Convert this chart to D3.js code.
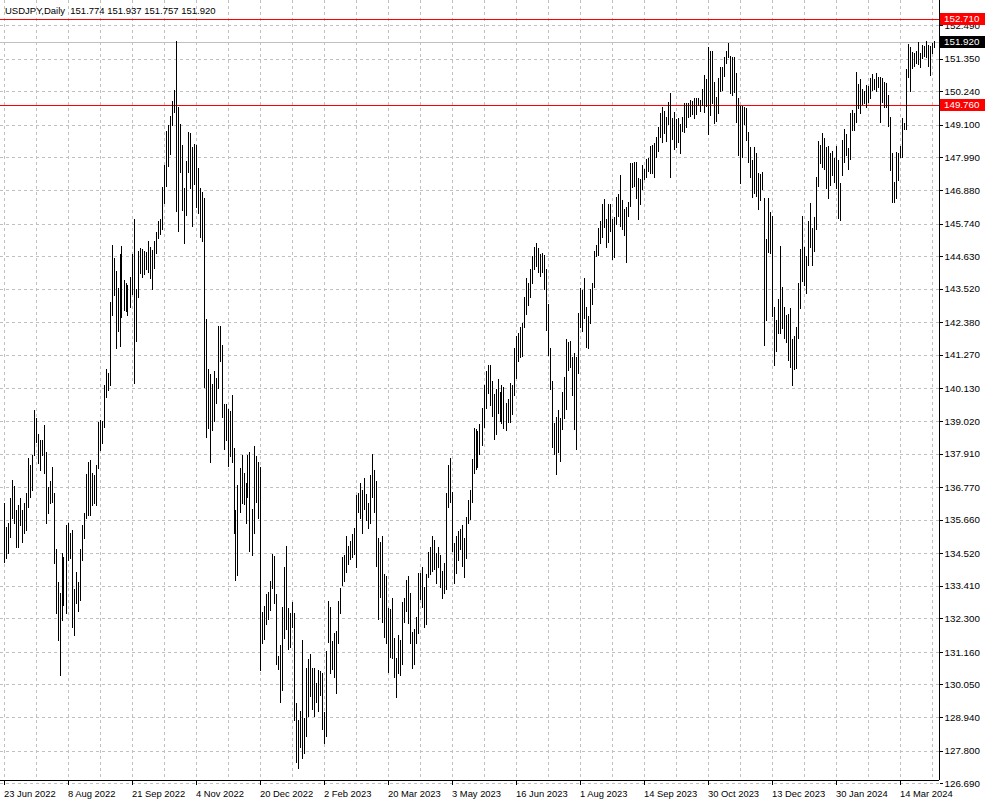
<!DOCTYPE html>
<html><head><meta charset="utf-8">
<script src="https://cdn.jsdelivr.net/npm/d3@7"></script>
<style>
html,body{margin:0;padding:0;background:#fff;}
svg{display:block;font-family:"Liberation Sans",Arial,sans-serif;}
</style></head>
<body><div id="chart"></div>
<script>
// ---- data (USDJPY daily, high/low per bar) ----
const symbolTitle = "USDJPY,Daily";
const lastOHLC = [151.774, 151.937, 151.757, 151.920];
const highs = [
136.22,135.42,135.54,136.39,137.01,136.81,135.99,136.16,136.39,135.99,
136.24,136.56,137.75,137.52,137.86,139.39,139.11,138.58,138.37,138.37,
138.88,137.98,136.78,136.99,137.46,136.56,134.65,133.55,133.15,134.51,
134.40,135.48,135.56,135.20,135.31,133.29,133.89,133.55,134.65,135.48,
135.88,137.21,137.63,137.69,137.24,137.18,137.52,139.00,139.05,139.03,
140.24,140.78,140.66,143.08,145.01,144.56,144.14,143.53,144.70,144.98,
143.82,143.70,143.65,143.91,144.70,145.88,143.50,144.82,144.90,144.86,
144.82,144.78,145.15,144.93,144.84,145.16,145.44,145.84,145.88,146.99,
147.73,148.90,149.09,149.40,149.92,150.29,151.96,149.70,149.13,148.41,
146.94,147.88,148.87,148.81,148.36,148.45,148.41,147.62,146.94,146.82,
146.62,142.48,140.78,140.62,140.28,140.73,140.47,142.25,142.25,141.61,
139.60,139.60,139.43,139.37,139.90,138.09,135.99,136.84,137.41,137.86,
137.26,136.92,137.86,137.97,136.01,138.17,137.83,137.63,137.44,132.53,
132.72,133.13,133.21,133.57,134.49,134.42,133.13,131.02,131.39,132.70,
134.06,134.76,132.64,132.47,132.87,132.49,129.43,128.84,129.16,131.56,
128.90,130.60,130.91,131.09,130.60,130.60,130.09,130.54,130.52,130.43,
129.13,131.20,132.90,132.70,131.54,131.81,131.88,132.90,133.32,134.38,
134.46,135.10,134.76,134.95,135.17,135.37,136.50,136.58,136.92,136.67,
137.07,136.53,136.22,137.18,137.90,137.35,136.99,135.03,134.91,135.10,
133.81,133.74,132.64,132.61,132.98,131.62,130.94,131.74,131.56,132.87,
132.98,133.61,133.74,133.18,131.85,131.93,132.36,133.86,133.83,134.06,
133.38,133.81,134.57,134.72,135.10,134.97,134.51,134.74,134.46,133.92,
134.20,136.58,137.52,137.77,136.61,134.88,135.10,135.29,135.33,135.48,
135.03,135.76,136.33,136.67,137.71,138.77,138.74,138.69,138.92,139.45,
140.24,140.72,140.92,140.92,140.39,139.94,140.10,140.44,140.02,140.24,
140.19,139.64,139.76,140.30,140.24,141.49,141.91,142.02,142.23,142.34,
143.25,143.87,143.73,144.18,144.63,144.93,145.07,144.90,144.70,144.73,
144.67,144.18,143.00,141.49,140.39,138.96,139.14,139.39,139.11,140.02,
140.50,141.80,141.72,141.75,141.21,141.34,141.21,142.71,143.53,143.48,
143.87,142.89,142.59,143.50,143.73,144.82,145.01,145.58,145.84,146.41,
146.56,145.88,146.41,146.41,145.88,145.95,146.63,146.75,147.39,146.54,
146.22,146.29,146.48,147.79,147.81,147.85,147.85,147.28,147.24,147.73,
147.58,147.93,147.96,148.38,148.41,148.47,148.70,149.01,149.51,149.70,
149.58,149.35,149.89,150.19,149.32,149.55,149.29,149.32,149.13,149.35,
149.85,149.85,149.83,149.94,149.92,150.00,150.00,150.00,149.94,150.31,
150.80,150.65,151.74,151.62,151.62,150.57,150.06,150.68,151.06,151.08,
151.40,151.62,151.90,151.44,151.42,151.42,150.85,150.00,149.74,149.74,
149.72,149.66,148.87,148.36,147.90,148.36,148.13,147.47,147.43,147.51,
146.60,145.20,146.60,146.14,146.00,142.91,142.46,143.16,144.98,143.57,
142.89,142.63,142.66,142.85,141.80,141.91,142.23,143.73,144.86,146.00,
144.95,144.63,145.84,146.45,145.58,145.95,147.34,148.56,148.41,148.81,
148.64,148.36,148.38,148.15,148.22,147.96,148.38,147.90,147.13,148.58,
148.95,148.79,148.30,149.51,149.60,149.51,150.91,150.49,150.65,150.31,
150.26,150.46,150.42,150.68,150.83,150.65,150.88,150.74,150.72,150.68,
150.57,150.53,150.12,149.35,148.15,147.17,148.19,148.15,148.38,149.32,
149.17,150.99,151.85,151.74,151.59,151.56,151.62,151.93,151.56,151.82,
151.78,151.96,151.82,151.78,151.87,151.937];
const lows = [
134.23,134.34,134.51,135.08,135.71,135.54,134.72,134.74,135.48,134.91,
135.20,135.31,136.10,136.44,136.67,137.86,138.32,137.58,137.35,137.86,
137.24,135.54,135.88,136.22,136.27,134.17,132.47,131.56,130.37,132.25,
132.76,132.50,134.29,134.34,132.00,131.74,132.81,132.56,132.93,134.29,
135.03,135.71,135.82,135.82,136.16,136.22,136.16,137.41,138.03,138.26,
138.83,139.85,140.07,140.24,142.63,143.31,141.49,142.09,141.58,142.55,
142.80,142.77,142.63,142.91,143.33,140.32,141.75,143.23,144.05,143.91,
144.02,144.19,144.10,143.87,143.52,144.22,144.73,145.24,145.38,145.54,
146.43,147.02,147.70,148.11,149.09,149.55,146.18,145.50,147.51,146.20,
145.09,146.03,147.51,146.96,145.66,147.09,146.31,146.09,145.29,145.16,
140.19,138.46,138.77,137.63,138.71,139.03,139.62,140.13,141.07,139.14,
138.05,138.37,137.49,137.83,137.63,135.20,133.61,133.78,135.93,136.22,
136.19,135.56,136.44,134.60,134.46,135.22,136.27,135.71,130.54,131.47,
131.59,132.11,132.27,132.59,133.32,132.83,130.75,130.57,129.47,129.86,
131.62,131.93,131.25,131.31,132.00,128.84,127.42,127.20,127.93,127.54,
127.73,128.30,128.98,129.66,129.20,128.98,129.47,129.16,129.69,128.52,
128.05,128.30,131.51,130.45,130.57,130.32,129.77,131.47,132.50,133.44,
133.58,133.89,134.15,134.31,134.38,134.49,134.04,135.93,135.71,135.22,
136.01,135.65,135.37,135.54,136.44,135.93,134.08,132.27,133.02,132.19,
131.68,131.47,130.49,131.00,130.94,130.29,129.61,130.45,130.37,130.75,
132.19,132.56,132.13,131.47,130.60,130.75,131.47,131.79,132.95,132.70,
132.00,132.11,133.70,133.81,133.92,133.97,133.52,134.04,133.36,132.98,
133.18,133.29,136.10,136.27,134.61,133.49,133.86,134.29,134.65,134.08,
133.72,134.34,135.56,135.67,136.27,137.26,137.37,137.44,137.90,138.20,
138.80,139.45,139.96,139.56,139.19,138.39,138.58,139.28,139.03,138.96,
138.77,138.71,139.00,139.00,139.26,139.90,140.47,141.07,141.19,141.23,
142.23,142.66,142.97,143.25,143.73,144.18,144.29,144.10,143.95,144.10,
143.50,142.12,141.26,140.10,138.14,137.89,137.21,137.97,137.67,138.73,
139.11,139.42,140.75,140.85,139.90,138.73,138.05,140.66,142.21,142.09,
142.51,141.53,141.49,142.37,143.00,143.57,144.64,144.67,145.09,145.29,
145.61,144.93,145.12,145.50,144.52,144.59,145.72,146.00,145.66,145.54,
145.35,144.44,146.00,146.34,147.00,147.02,146.60,145.88,146.41,146.90,
147.24,147.34,147.54,147.47,147.47,147.31,148.02,148.22,148.70,148.53,
148.83,148.56,149.13,147.31,148.61,148.27,148.33,148.53,148.15,148.90,
148.87,149.04,149.35,149.40,149.47,149.32,149.47,149.77,149.58,149.77,
149.55,149.74,148.79,149.43,149.85,149.17,149.24,149.49,150.26,150.29,
150.76,151.22,151.42,150.17,150.12,150.23,149.21,148.07,147.13,148.02,
149.13,148.58,147.85,147.31,146.65,146.79,146.68,146.22,146.54,146.90,
141.61,142.46,144.78,144.73,142.59,140.92,141.41,142.03,142.03,142.17,
141.83,141.72,141.09,140.87,140.24,140.78,140.81,141.83,142.85,143.80,
143.65,143.39,144.33,144.95,144.33,144.82,145.54,147.02,147.79,147.65,
147.58,146.94,146.60,147.05,147.39,147.17,146.94,145.92,145.86,147.39,
147.85,148.07,147.58,147.93,148.92,148.92,149.21,149.66,149.51,149.81,
149.83,149.70,149.89,150.00,150.29,150.31,150.26,150.38,149.21,149.89,
149.70,149.70,149.06,147.56,146.48,146.48,146.60,147.22,147.99,147.99,
148.95,148.95,150.72,150.26,151.02,151.10,151.19,151.17,151.06,151.36,
151.44,151.40,151.10,150.80,151.53,151.757];
const dateLabels = ["23 Jun 2022","8 Aug 2022","21 Sep 2022","4 Nov 2022","20 Dec 2022","2 Feb 2023",
  "20 Mar 2023","3 May 2023","16 Jun 2023","1 Aug 2023","14 Sep 2023","30 Oct 2023","13 Dec 2023",
  "30 Jan 2024","14 Mar 2024"];
const dateLabelBars = [0,32,64,96,128,160,192,224,256,288,320,352,384,416,448];
const priceTicks = [152.490,151.350,150.240,149.100,147.990,146.880,145.740,144.630,143.520,142.380,
  141.270,140.130,139.020,137.910,136.770,135.660,134.520,133.410,132.300,131.160,130.050,128.940,127.800,126.690];
const hLines = [152.710, 149.760];   // red horizontal lines
const bidPrice = 151.920;

// ---- layout ----
const W = 985, H = 808;
const plotW = 939, plotH = 780;
const svg = d3.select("#chart").append("svg").attr("width", W).attr("height", H);
svg.append("rect").attr("width", W).attr("height", H).attr("fill", "#fff");

const x = d3.scaleLinear().domain([-1.75, 467.75]).range([0, plotW]);
const y = d3.scaleLinear().domain([153.348 - plotH / 29.38, 153.348]).range([plotH, 0]);
const px = v => Math.round(v) + 0.5;

const g = svg.append("g").attr("shape-rendering", "crispEdges");
// grid
g.append("g").selectAll("line").data(priceTicks).join("line")
  .attr("x1", 0).attr("x2", plotW).attr("y1", d => px(y(d))).attr("y2", d => px(y(d)))
  .attr("stroke", "#c0c0c0").attr("stroke-dasharray", "3,3");
const gridBars = d3.range(0, highs.length, 16);
g.append("g").selectAll("line").data(gridBars).join("line")
  .attr("x1", d => px(x(d))).attr("x2", d => px(x(d))).attr("y1", 0).attr("y2", plotH)
  .attr("stroke", "#c0c0c0").attr("stroke-dasharray", "3,3");

// bid line
g.append("line").attr("x1", 0).attr("x2", plotW).attr("y1", px(y(bidPrice))).attr("y2", px(y(bidPrice)))
  .attr("stroke", "#c0c0c0");
// red lines
g.append("g").selectAll("line").data(hLines).join("line")
  .attr("x1", 0).attr("x2", plotW).attr("y1", d => px(y(d))).attr("y2", d => px(y(d)))
  .attr("stroke", "#ff0000");

// bars (high-low)
g.append("g").selectAll("line").data(highs).join("line")
  .attr("x1", (d, i) => px(x(i))).attr("x2", (d, i) => px(x(i)))
  .attr("y1", d => Math.round(y(d))).attr("y2", (d, i) => Math.round(y(lows[i])) + 1)
  .attr("stroke", "#000").attr("stroke-width", 1);

// axes
const yAxis = d3.axisRight(y).tickValues(priceTicks).tickSize(3).tickFormat(d3.format(".3f"));
const ya = svg.append("g").attr("shape-rendering", "crispEdges")
  .attr("transform", `translate(${plotW + 0.5},0)`).call(yAxis);
ya.select(".domain").attr("d", `M0,0V${plotH}`).attr("stroke", "#000");
ya.selectAll("text").attr("font-size", 9.8).attr("fill", "#000").attr("x", 5).attr("shape-rendering", null);
ya.selectAll(".tick line").attr("stroke", "#000");

const xAxis = d3.axisBottom(x).tickValues(dateLabelBars).tickSize(4).tickFormat((d, i) => dateLabels[i]);
const xa = svg.append("g").attr("shape-rendering", "crispEdges")
  .attr("transform", `translate(0,${plotH + 0.5})`).call(xAxis);
xa.select(".domain").attr("d", `M0,0H${plotW}`).attr("stroke", "#000");
xa.selectAll("text").attr("font-size", 9.4).attr("fill", "#000").attr("text-anchor", "start")
  .attr("x", 0).attr("y", 10).attr("dy", "0.71em");
xa.selectAll(".tick line").attr("stroke", "#000");

// price tags
function tag(v, bg, fg) {
  const yy = Math.round(y(v));
  svg.append("rect").attr("x", plotW + 1).attr("y", yy - 6).attr("width", 45).attr("height", 12).attr("fill", bg);
  svg.append("text").attr("x", plotW + 5).attr("y", yy).attr("dy", "0.35em").attr("font-size", 9.8)
    .attr("fill", fg).text(d3.format(".3f")(v));
}
hLines.forEach(v => tag(v, "#ff0000", "#fff"));
tag(bidPrice, "#000", "#fff");

// title
svg.append("text").attr("x", 5).attr("y", 14).attr("font-size", 9.5).attr("fill", "#000")
  .attr("xml:space", "preserve")
  .text(symbolTitle + "  " + lastOHLC.map(d3.format(".3f")).join(" "));
</script></body></html>
